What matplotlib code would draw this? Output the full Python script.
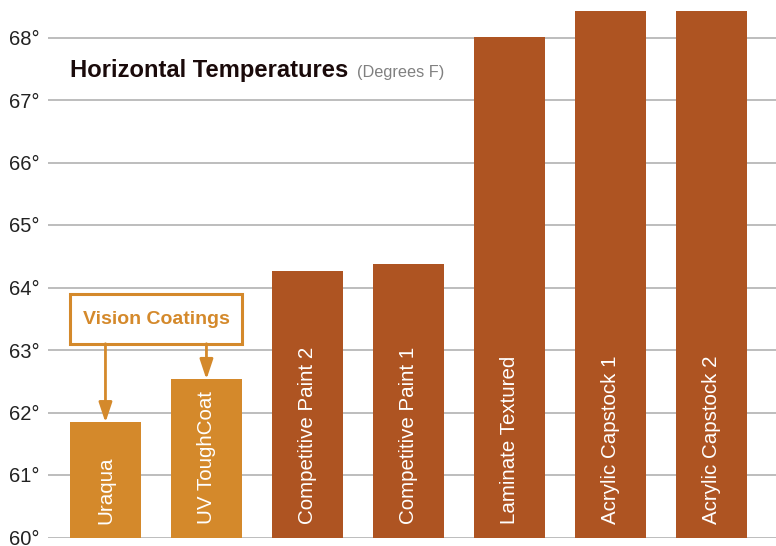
import matplotlib
matplotlib.use("Agg")
import matplotlib.pyplot as plt
from matplotlib.patches import Rectangle
from matplotlib import font_manager

categories = ["Uraqua", "UV ToughCoat", "Competitive Paint 2", "Competitive Paint 1",
              "Laminate Textured", "Acrylic Capstock 1", "Acrylic Capstock 2"]
values = [61.84, 62.53, 64.27, 64.37, 68.0, 68.42, 68.42]
is_vision = [True, True, False, False, False, False, False]
yticks = [60, 61, 62, 63, 64, 65, 66, 67, 68]
ytick_labels = [f"{t}°" for t in yticks]
title = "Horizontal Temperatures"
subtitle = "(Degrees F)"
callout = "Vision Coatings"

ORANGE = "#D4892B"
RUST = "#AE5422"

names = {f.name for f in font_manager.fontManager.ttflist}
base = "Liberation Sans" if "Liberation Sans" in names else "DejaVu Sans"
plt.rcParams["font.family"] = [base, "DejaVu Sans"]

W, H = 776, 546
fig = plt.figure(figsize=(W / 100, H / 100), dpi=100)
ax = fig.add_axes([48 / W, 8.5 / H, 728 / W, 537.5 / H])

x = list(range(len(categories)))
bw = 0.70
colors = [ORANGE if v else RUST for v in is_vision]
ax.bar(x, [v - 60 for v in values], bottom=60, width=bw, color=colors, zorder=3)

ax.set_xlim(-0.569, 6.64)
ax.set_ylim(60, 68.6)
ax.set_yticks(yticks)
ax.set_yticklabels(ytick_labels, fontsize=14.5, color="#222222")
ax.tick_params(axis="y", length=0, pad=6)
ax.set_xticks([])
ax.yaxis.grid(True, color="#ababab", linewidth=1.1, zorder=0)
ax.set_axisbelow(True)
for s in ax.spines.values():
    s.set_visible(False)

for xi, name in zip(x, categories):
    ax.text(xi, 60.21, name, rotation=90, ha="center", va="bottom",
            color="white", fontsize=14.8, zorder=4)

# callout box
box_bottom, box_top = 63.10, 63.89
left = x[0] - bw / 2
right = x[1] + bw / 2
ax.add_patch(Rectangle((left, box_bottom), right - left, box_top - box_bottom,
                       facecolor="white", edgecolor=ORANGE, linewidth=2.2, zorder=5))
ax.text((left + right) / 2, (box_bottom + box_top) / 2, callout, ha="center", va="center",
        color=ORANGE, fontsize=14, fontweight="bold", zorder=6)
for i in (0, 1):
    ax.annotate("", xy=(x[i], values[i]), xytext=(x[i], box_bottom),
                arrowprops=dict(arrowstyle="-|>,head_length=1.2,head_width=0.4",
                                mutation_scale=10, color=ORANGE, lw=2,
                                shrinkA=0, shrinkB=0), zorder=6)

# title
t1 = fig.text(70 / W, 1 - 77 / H, title, fontsize=17.1, fontweight="bold",
              color="#1a0a0a", ha="left", va="baseline")
fig.canvas.draw()
bb = t1.get_window_extent()
fig.text((bb.x1 + 9) / W, 1 - 77 / H, subtitle, fontsize=11.7, color="#808080",
         ha="left", va="baseline")

fig.savefig("out.png", dpi=100)
